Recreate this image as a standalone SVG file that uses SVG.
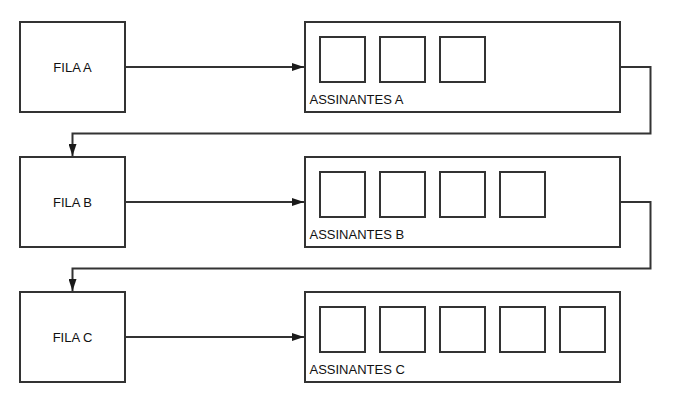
<svg xmlns="http://www.w3.org/2000/svg" width="685" height="415" viewBox="0 0 685 415">
<defs>
<marker id="arr" viewBox="0 0 12 8" refX="12" refY="4" markerWidth="12" markerHeight="8" markerUnits="userSpaceOnUse" orient="auto">
<path d="M0,0 L12,4 L0,8 Z" fill="#1a1a1a"/>
</marker>
</defs>
<style>
.box{fill:#fff;stroke:#333;stroke-width:2}
.sq{fill:#fff;stroke:#333;stroke-width:2}
.t{font-family:"Liberation Sans",Arial,sans-serif;font-size:13px;fill:#111}
.c{fill:none;stroke:#333;stroke-width:2;marker-end:url(#arr)}
</style>
<rect width="685" height="415" fill="#fff"/>
<g id="connectors">
<path class="c" d="M125,67 H304"/>
<path class="c" d="M620,67 H650.5 V133.5 H72.5 V156"/>
<path class="c" d="M125,202 H304"/>
<path class="c" d="M620,202 H650.5 V268.5 H72.5 V291"/>
<path class="c" d="M125,337 H304"/>
</g>
<g id="filaA">
<rect class="box" x="20" y="22" width="105" height="90"/>
<text class="t" x="72.5" y="71.5" text-anchor="middle">FILA A</text>
</g>
<g id="assinantesA">
<rect class="box" x="305" y="22" width="315" height="90"/>
<rect class="sq" x="320" y="37" width="45" height="45"/>
<rect class="sq" x="380" y="37" width="45" height="45"/>
<rect class="sq" x="440" y="37" width="45" height="45"/>
<text class="t" x="309.5" y="104">ASSINANTES A</text>
</g>
<g id="filaB">
<rect class="box" x="20" y="157" width="105" height="90"/>
<text class="t" x="72.5" y="206.5" text-anchor="middle">FILA B</text>
</g>
<g id="assinantesB">
<rect class="box" x="305" y="157" width="315" height="90"/>
<rect class="sq" x="320" y="172" width="45" height="45"/>
<rect class="sq" x="380" y="172" width="45" height="45"/>
<rect class="sq" x="440" y="172" width="45" height="45"/>
<rect class="sq" x="500" y="172" width="45" height="45"/>
<text class="t" x="309.5" y="239">ASSINANTES B</text>
</g>
<g id="filaC">
<rect class="box" x="20" y="292" width="105" height="90"/>
<text class="t" x="72.5" y="341.5" text-anchor="middle">FILA C</text>
</g>
<g id="assinantesC">
<rect class="box" x="305" y="292" width="315" height="90"/>
<rect class="sq" x="320" y="307" width="45" height="45"/>
<rect class="sq" x="380" y="307" width="45" height="45"/>
<rect class="sq" x="440" y="307" width="45" height="45"/>
<rect class="sq" x="500" y="307" width="45" height="45"/>
<rect class="sq" x="560" y="307" width="45" height="45"/>
<text class="t" x="309.5" y="374">ASSINANTES C</text>
</g>
</svg>
